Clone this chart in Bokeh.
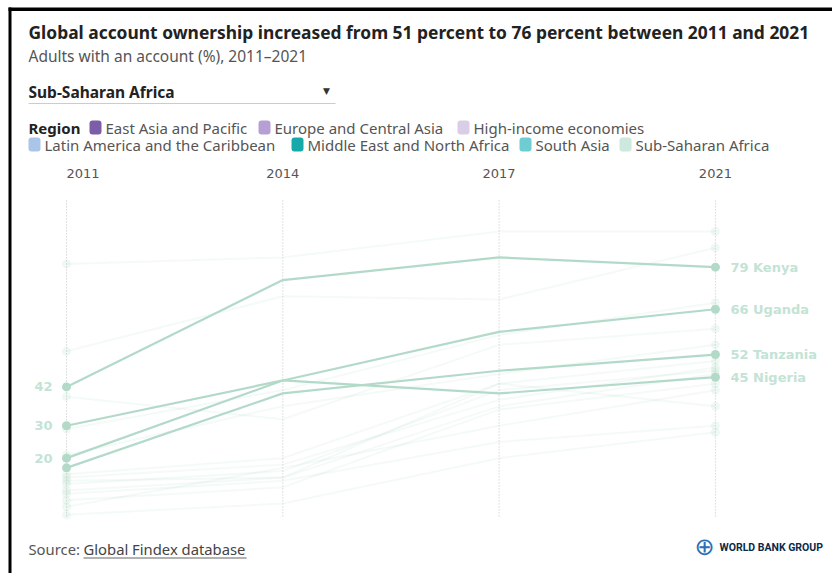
from bokeh.plotting import figure
from bokeh.models import Label, BoxAnnotation, Range1d, ColumnDataSource
from bokeh.embed import file_html
from bokeh.resources import INLINE
from bokeh.core.properties import value

# ---------------- data ----------------
years = ["2011", "2014", "2017", "2021"]

highlight_names = ["Kenya", "Uganda", "Tanzania", "Nigeria"]
kenya = [42, 75, 82, 79]
uganda = [20, 44, 59, 66]
tanzania = [17, 40, 47, 52]
nigeria = [30, 44, 40, 45]
highlight_values = [kenya, uganda, tanzania, nigeria]

# other Sub-Saharan African economies (faint background lines)
other_values = [
    [80, 82, 90, 90],
    [53, 70, 69, 85],
    [39, 32, 55, 60],
    [29, 41, 58, 68],
    [21, 36, 46, 55],
    [15, 20, 43, 50],
    [14, 18, 38, 48],
    [12, 16, 41, 47],
    [10, 14, 36, 46],
    [7, 11, 35, 43],
    [13, 14, 43, 36],
    [5, 17, 30, 41],
    [2.5, 6, 20, 28],
    [9, 13, 25, 30],
]

regions = ["East Asia and Pacific", "Europe and Central Asia", "High-income economies",
           "Latin America and the Caribbean", "Middle East and North Africa",
           "South Asia", "Sub-Saharan Africa"]
region_colors = ["#7b5ea7", "#b59fd4", "#dacde8", "#a9c6e8", "#17a9a9", "#6dcdd1", "#cde8dc"]

title_text = "Global account ownership increased from 51 percent to 76 percent between 2011 and 2021"
subtitle_text = "Adults with an account (%), 2011\u20132021"
selected_region = "Sub-Saharan Africa"

# ---------------- layout / scales ----------------
W, H = 832, 573
X0_PX, X_STEP = 66.0, 216.3
Y0_PX, Y_UNIT = 522.4, 3.2375


def sx(px):
    return (px - X0_PX) / X_STEP


def sy(py):
    return (Y0_PX - py) / Y_UNIT


p = figure(width=W, height=H,
           x_range=Range1d(sx(0), sx(W)), y_range=Range1d(sy(H), sy(0)),
           x_axis_type=None, y_axis_type=None,
           toolbar_location=None, output_backend="svg",
           min_border=0, outline_line_color=None,
           background_fill_color="white", border_fill_color="white")
p.min_border_left = p.min_border_right = p.min_border_top = p.min_border_bottom = 0

idx = list(range(len(years)))

HL = "#b3dac9"
HL_TEXT = "#c3e3d5"

# vertical dotted guide lines
all_vals = [v for s in other_values + highlight_values for v in s]
grid_low = min(all_vals) - 0.5
p.segment(x0=idx, y0=[grid_low] * len(idx), x1=idx, y1=[100] * len(idx),
          line_color="#c4c4c4", line_width=1, line_dash="1 2")

# year labels
p.text(x=idx, y=[sy(172.5)] * len(idx), text=years,
       text_align=["left"] + ["center"] * (len(years) - 1), text_baseline="middle",
       text_font=value("DejaVu Sans"), text_font_size="13px", text_color="#555555")

# faint lines
for vals in other_values:
    p.line(idx, vals, line_color=HL, line_alpha=0.14, line_width=2)
    p.scatter([idx[0], idx[-1]], [vals[0], vals[-1]], size=9,
              fill_color=HL, fill_alpha=0.2, line_color=None)

# highlighted lines
for vals in highlight_values:
    p.line(idx, vals, line_color=HL, line_width=2.2)
    p.scatter([idx[0], idx[-1]], [vals[0], vals[-1]], size=9,
              fill_color=HL, line_color=None)

# start labels (skip ones that collide)
order = sorted(range(len(highlight_values)), key=lambda i: -highlight_values[i][0])
kept, last = [], None
for i in order:
    v = highlight_values[i][0]
    if last is None or last - v >= 6:
        kept.append(i)
        last = v
start_src = ColumnDataSource(dict(x=[idx[0]] * len(kept),
                                  y=[highlight_values[i][0] for i in kept],
                                  t=[str(highlight_values[i][0]) for i in kept]))
p.text(x="x", y="y", text="t", source=start_src, x_offset=-14,
       text_align="right", text_baseline="middle",
       text_font=value("DejaVu Sans"), text_font_style="bold",
       text_font_size="13px", text_color=HL_TEXT)

end_src = ColumnDataSource(dict(x=[idx[-1]] * len(highlight_values),
                                y=[v[-1] for v in highlight_values],
                                t=[f"{v[-1]} {n}" for v, n in zip(highlight_values, highlight_names)]))
p.text(x="x", y="y", text="t", source=end_src, x_offset=15,
       text_align="left", text_baseline="middle",
       text_font=value("DejaVu Sans"), text_font_style="bold",
       text_font_size="13px", text_color=HL_TEXT)

# ---------------- header texts ----------------
FONT = "Noto Sans"


def label(px, py, text, size, color, bold=False, font=FONT, align="left"):
    p.add_layout(Label(x=sx(px), y=sy(py), text=text, text_font=font,
                       text_font_size=size, text_color=color, text_align=align,
                       text_baseline="middle",
                       text_font_style="bold" if bold else "normal"))


def box(l, r, t, b, color, radius=0):
    p.add_layout(BoxAnnotation(left=sx(l), right=sx(r), top=sy(t), bottom=sy(b),
                               fill_color=color, fill_alpha=1, line_color=None,
                               border_radius=radius, level="overlay"))


label(28, 31, title_text, "17.4px", "#222222", bold=True)
label(28, 55, subtitle_text, "15.5px", "#555555")
label(28, 91, selected_region, "15.5px", "#222222", bold=True)
label(326, 90, "\u25bc", "9px", "#333333", font="DejaVu Sans", align="center")
box(28, 335, 102.5, 103.5, "#cccccc")

# legend
label(28, 127, "Region", "15px", "#222222", bold=True)
legend_pos = [(89, 127), (258, 127), (457, 127), (28, 144), (291, 144), (519, 144), (619, 144)]
for (lx, ly), name, col in zip(legend_pos, regions, region_colors):
    box(lx, lx + 12, ly - 7, ly + 7, col, radius=3)
    label(lx + 16, ly, name, "15px", "#555555")

# source
label(28, 548, "Source:", "14.8px", "#555555")
label(83, 548, "Global Findex database", "14.8px", "#444444")
box(83, 246, 557, 558, "#666666")

# World Bank Group mark
label(704, 546, "\u2295", "24px", "#2b6fb4", font="DejaVu Sans", align="center")
label(719, 547, "WORLD BANK GROUP", "10.5px", "#0b2a4a", bold=True, font="Roboto")

# outer frame
box(8, 11, 7, H + 5, "#000000")
box(8, W + 5, 7, 10.5, "#000000")

open("out.html", "w").write(file_html(p, INLINE))
